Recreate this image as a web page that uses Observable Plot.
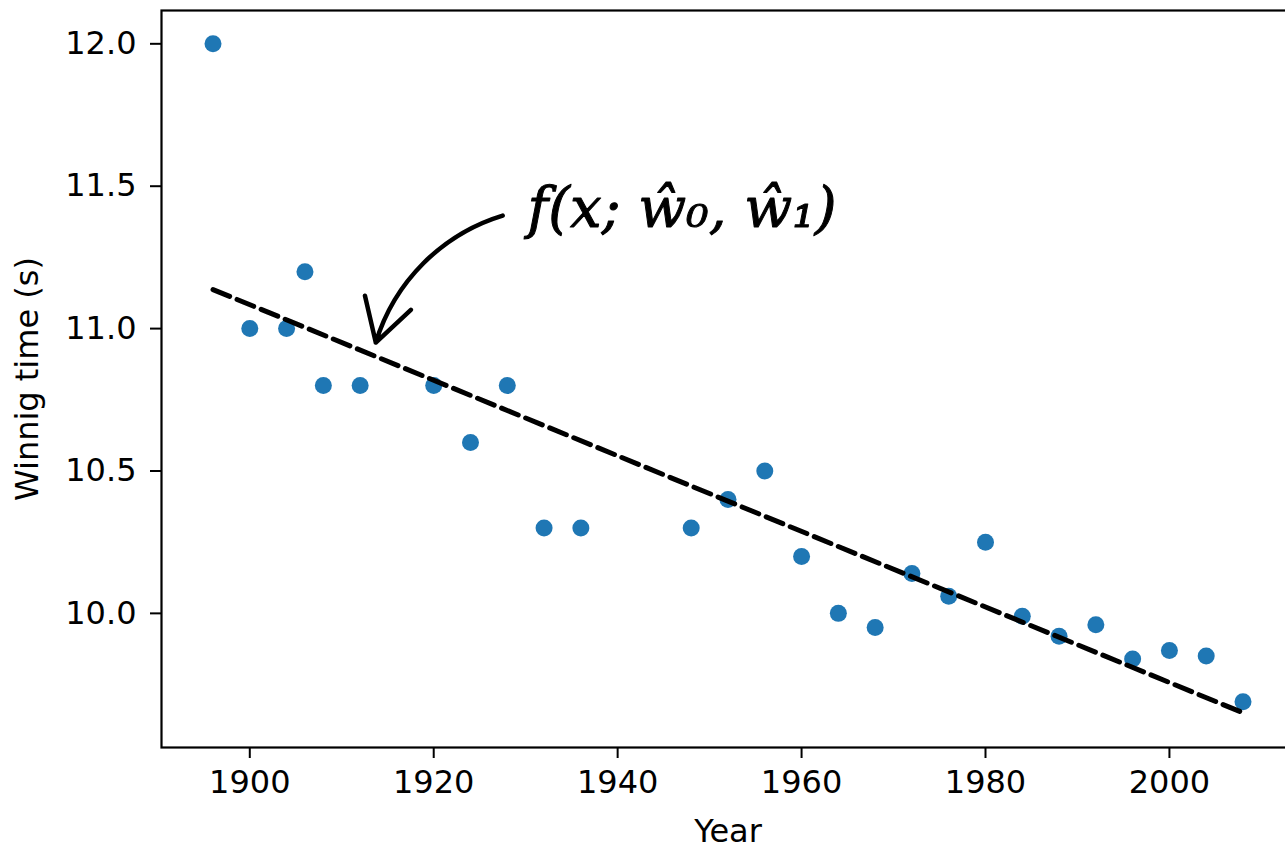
<!DOCTYPE html>
<html>
<head>
<meta charset="utf-8">
<script src="https://cdn.jsdelivr.net/npm/d3@7"></script>
<script src="https://cdn.jsdelivr.net/npm/@observablehq/plot@0.6"></script>
<style>
  html, body { margin: 0; padding: 0; background: #fff; overflow: hidden; }
</style>
</head>
<body>
<div id="chart"></div>
<script>
// Olympic men's 100 m winning times
const years = [1896, 1900, 1904, 1906, 1908, 1912, 1920, 1924, 1928, 1932, 1936, 1948, 1952, 1956, 1960, 1964, 1968, 1972, 1976, 1980, 1984, 1988, 1992, 1996, 2000, 2004, 2008];
const times = [12.0, 11.0, 11.0, 11.2, 10.8, 10.8, 10.8, 10.6, 10.8, 10.3, 10.3, 10.3, 10.4, 10.5, 10.2, 10.0, 9.95, 10.14, 10.06, 10.25, 9.99, 9.92, 9.96, 9.84, 9.87, 9.85, 9.69];

// fitted line f(x; w0, w1) end points
const fitYears = [1896, 2008];
const fitTimes = [11.137, 9.651];

// axis ticks
const xTicks = [1900, 1920, 1940, 1960, 1980, 2000];
const yTicks = [10.0, 10.5, 11.0, 11.5, 12.0];

// annotation
const annotLabel = ["f(x; ŵ₀, ŵ₁)"];
const annotTextPos = [1947.0, 11.42];
const annotArrowFrom = [1927.5, 11.397];
const annotArrowTo = [1913.7, 10.951];

const points = years.map((y, i) => ({year: y, time: times[i]}));
const fit = fitYears.map((y, i) => ({year: y, time: fitTimes[i]}));
const annot = [{
  text: annotLabel[0],
  tx: annotTextPos[0], ty: annotTextPos[1],
  x1: annotArrowFrom[0], y1: annotArrowFrom[1],
  x2: annotArrowTo[0], y2: annotArrowTo[1]
}];

const chart = Plot.plot({
  width: 1300,
  height: 848,
  marginLeft: 161,
  marginRight: 6,
  marginTop: 10,
  marginBottom: 101,
  style: {maxWidth: "none", fontFamily: "DejaVu Sans", fontSize: "32px", color: "black", background: "white"},
  x: {domain: [1890.4, 2013.6]},
  y: {domain: [9.529, 12.117]},
  marks: [
    Plot.frame({stroke: "black", strokeWidth: 2.2}),
    Plot.axisX({ticks: xTicks, tickFormat: d => String(d), tickSize: 11, tickPadding: 12, strokeWidth: 2,
      label: "Year", labelAnchor: "center", labelArrow: "none", labelOffset: 94, fontSize: 32}),
    Plot.axisY({ticks: yTicks, tickFormat: d3.format(".1f"), tickSize: 11, tickPadding: 14, strokeWidth: 2,
      label: "Winnig time (s)", labelAnchor: "center", labelArrow: "none", labelOffset: 146, fontSize: 32}),
    Plot.dot(points, {x: "year", y: "time", r: 8.5, fill: "#1f77b4", stroke: "none"}),
    Plot.line(fit, {x: "year", y: "time", stroke: "black", strokeWidth: 5, strokeDasharray: "18,8"}),
    Plot.arrow(annot, {x1: "x1", y1: "y1", x2: "x2", y2: "y2", bend: -28, stroke: "black", strokeWidth: 4.5, headLength: 16, headAngle: 60}),
    Plot.text(annot, {x: "tx", y: "ty", text: "text", fontSize: 56, fontStyle: "italic", fontFamily: "DejaVu Serif", fill: "black", stroke: "black", strokeWidth: 1})
  ]
});
document.getElementById("chart").appendChild(chart);
</script>
</body>
</html>
